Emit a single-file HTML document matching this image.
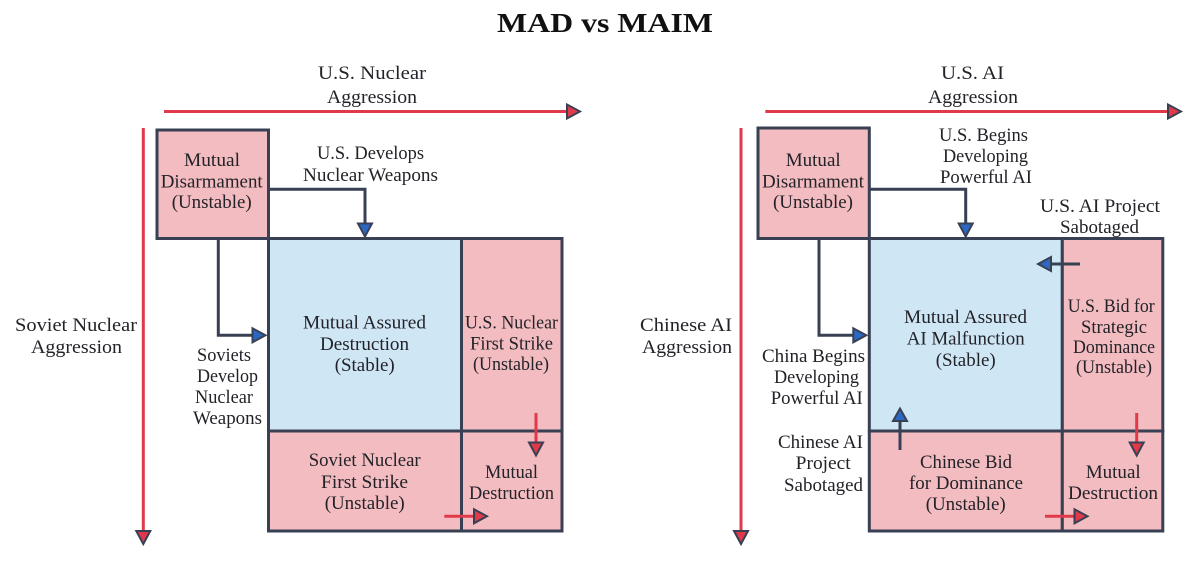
<!DOCTYPE html>
<html lang="en">
<head>
<meta charset="utf-8">
<title>MAD vs MAIM</title>
<style>
html,body{margin:0;padding:0;background:#fff;width:1200px;height:568px;overflow:hidden}
svg{display:block}
text{font-family:"Liberation Serif",serif;font-size:19px;fill:#222228}
.box{stroke:#3a4054;stroke-width:3}
.pink{fill:#f2bcc0}
.blue{fill:#cfe6f5}
.dk{stroke:#3a4054;stroke-width:3;fill:none}
.rd{stroke:#e0394a;stroke-width:3;fill:none}
.hr{fill:#e0394a;stroke:#3a4054;stroke-width:2;stroke-linejoin:miter}
.hb{fill:#2b68c4;stroke:#3a4054;stroke-width:2;stroke-linejoin:miter}
</style>
</head>
<body>
<svg width="1200" height="568" viewBox="0 0 1200 568" xmlns="http://www.w3.org/2000/svg">
<rect width="1200" height="568" fill="#fff"/>
<text x="497" y="32" textLength="216" lengthAdjust="spacingAndGlyphs" style="font-size:27px;font-weight:bold;fill:#111">MAD vs MAIM</text>

<!-- LEFT -->
<line class="rd" x1="164" y1="111.5" x2="568" y2="111.5"/>
<polygon class="hr" points="567,104.5 567,118.5 580,111.5"/>
<line class="rd" x1="143.3" y1="128" x2="143.3" y2="532"/>
<polygon class="hr" points="136.3,531 150.3,531 143.3,544"/>

<rect class="box pink" x="157" y="130" width="111.500" height="108.500"/>
<rect class="box blue" x="268.500" y="238.500" width="193" height="192.500"/>
<rect class="box pink" x="461.500" y="238.500" width="100.500" height="192.500"/>
<rect class="box pink" x="268.500" y="431" width="193" height="100"/>
<rect class="box pink" x="461.500" y="431" width="100.500" height="100"/>

<polyline class="dk" points="268.500,189.300 365,189.300 365,224"/>
<polygon class="hb" points="358,223.500 372,223.500 365,236.500"/>
<polyline class="dk" points="218.300,238.500 218.300,335.300 253,335.300"/>
<polygon class="hb" points="252.500,328.300 252.500,342.300 265.500,335.300"/>

<line class="rd" x1="536" y1="413" x2="536" y2="443"/>
<polygon class="hr" points="529,442.500 543,442.500 536,455.500"/>
<line class="rd" x1="444.300" y1="516.300" x2="474" y2="516.300"/>
<polygon class="hr" points="474,509.300 474,523.300 487,516.300"/>

<text x="318" y="79" textLength="108" lengthAdjust="spacingAndGlyphs">U.S. Nuclear</text>
<text x="327" y="103" textLength="90" lengthAdjust="spacingAndGlyphs">Aggression</text>
<text x="15" y="331" textLength="122" lengthAdjust="spacingAndGlyphs">Soviet Nuclear</text>
<text x="31" y="353" textLength="91" lengthAdjust="spacingAndGlyphs">Aggression</text>
<text x="184" y="166" textLength="56" lengthAdjust="spacingAndGlyphs">Mutual</text>
<text x="160.700" y="187.600" textLength="102" lengthAdjust="spacingAndGlyphs">Disarmament</text>
<text x="171.700" y="208" textLength="80" lengthAdjust="spacingAndGlyphs">(Unstable)</text>
<text x="317" y="159" textLength="107" lengthAdjust="spacingAndGlyphs">U.S. Develops</text>
<text x="303" y="181" textLength="135" lengthAdjust="spacingAndGlyphs">Nuclear Weapons</text>
<text x="303" y="328.700" textLength="123" lengthAdjust="spacingAndGlyphs">Mutual Assured</text>
<text x="320" y="350" textLength="89" lengthAdjust="spacingAndGlyphs">Destruction</text>
<text x="334.700" y="371" textLength="60" lengthAdjust="spacingAndGlyphs">(Stable)</text>
<text x="465" y="328.700" textLength="93" lengthAdjust="spacingAndGlyphs">U.S. Nuclear</text>
<text x="470" y="349.500" textLength="83" lengthAdjust="spacingAndGlyphs">First Strike</text>
<text x="473" y="370" textLength="76" lengthAdjust="spacingAndGlyphs">(Unstable)</text>
<text x="197" y="361" textLength="54" lengthAdjust="spacingAndGlyphs">Soviets</text>
<text x="197" y="382" textLength="61" lengthAdjust="spacingAndGlyphs">Develop</text>
<text x="195" y="403" textLength="58" lengthAdjust="spacingAndGlyphs">Nuclear</text>
<text x="193" y="424" textLength="69" lengthAdjust="spacingAndGlyphs">Weapons</text>
<text x="308.700" y="466" textLength="112" lengthAdjust="spacingAndGlyphs">Soviet Nuclear</text>
<text x="321" y="488" textLength="87" lengthAdjust="spacingAndGlyphs">First Strike</text>
<text x="324.700" y="509" textLength="80" lengthAdjust="spacingAndGlyphs">(Unstable)</text>
<text x="485" y="478" textLength="53" lengthAdjust="spacingAndGlyphs">Mutual</text>
<text x="469" y="499" textLength="85" lengthAdjust="spacingAndGlyphs">Destruction</text>

<!-- RIGHT -->
<line class="rd" x1="765.300" y1="111.500" x2="1169" y2="111.500"/>
<polygon class="hr" points="1168,104.500 1168,118.500 1181,111.500"/>
<line class="rd" x1="741" y1="128" x2="741" y2="532"/>
<polygon class="hr" points="734,531 748,531 741,544"/>

<rect class="box pink" x="758" y="128" width="111.300" height="110.500"/>
<rect class="box blue" x="869.300" y="238.500" width="193" height="192.500"/>
<rect class="box pink" x="1062.300" y="238.500" width="100.500" height="192.500"/>
<rect class="box pink" x="869.300" y="431" width="193" height="100"/>
<rect class="box pink" x="1062.300" y="431" width="100.500" height="100"/>

<polyline class="dk" points="869.300,189.300 965.700,189.300 965.700,224"/>
<polygon class="hb" points="958.700,223.500 972.700,223.500 965.700,236.500"/>
<polyline class="dk" points="819,238.500 819,335.300 854,335.300"/>
<polygon class="hb" points="853.300,328.300 853.300,342.300 866.300,335.300"/>

<line class="dk" x1="1080" y1="264" x2="1051" y2="264"/>
<polygon class="hb" points="1051,257 1051,271 1038,264"/>
<line class="dk" x1="900" y1="450" x2="900" y2="421"/>
<polygon class="hb" points="893,421 907,421 900,408.500"/>

<line class="rd" x1="1136.700" y1="413" x2="1136.700" y2="443"/>
<polygon class="hr" points="1129.700,442.500 1143.700,442.500 1136.700,455.500"/>
<line class="rd" x1="1045" y1="516.300" x2="1075" y2="516.300"/>
<polygon class="hr" points="1074.500,509.300 1074.500,523.300 1087.500,516.300"/>

<text x="941" y="79" textLength="63" lengthAdjust="spacingAndGlyphs">U.S. AI</text>
<text x="928" y="103" textLength="90" lengthAdjust="spacingAndGlyphs">Aggression</text>
<text x="640" y="331" textLength="92" lengthAdjust="spacingAndGlyphs">Chinese AI</text>
<text x="642" y="353" textLength="90" lengthAdjust="spacingAndGlyphs">Aggression</text>
<text x="785.700" y="166" textLength="55" lengthAdjust="spacingAndGlyphs">Mutual</text>
<text x="762" y="187.600" textLength="102" lengthAdjust="spacingAndGlyphs">Disarmament</text>
<text x="773" y="208" textLength="80" lengthAdjust="spacingAndGlyphs">(Unstable)</text>
<text x="939" y="141" textLength="89" lengthAdjust="spacingAndGlyphs">U.S. Begins</text>
<text x="943" y="162" textLength="85" lengthAdjust="spacingAndGlyphs">Developing</text>
<text x="940" y="183" textLength="92" lengthAdjust="spacingAndGlyphs">Powerful AI</text>
<text x="1040" y="212" textLength="120" lengthAdjust="spacingAndGlyphs">U.S. AI Project</text>
<text x="1060" y="233" textLength="79" lengthAdjust="spacingAndGlyphs">Sabotaged</text>
<text x="904" y="323" textLength="123" lengthAdjust="spacingAndGlyphs">Mutual Assured</text>
<text x="906.700" y="344.500" textLength="118" lengthAdjust="spacingAndGlyphs">AI Malfunction</text>
<text x="935.700" y="366" textLength="60" lengthAdjust="spacingAndGlyphs">(Stable)</text>
<text x="1067.700" y="312" textLength="87" lengthAdjust="spacingAndGlyphs">U.S. Bid for</text>
<text x="1081" y="333" textLength="66" lengthAdjust="spacingAndGlyphs">Strategic</text>
<text x="1073" y="353" textLength="82" lengthAdjust="spacingAndGlyphs">Dominance</text>
<text x="1076" y="373" textLength="76" lengthAdjust="spacingAndGlyphs">(Unstable)</text>
<text x="762" y="362" textLength="103" lengthAdjust="spacingAndGlyphs">China Begins</text>
<text x="774" y="383" textLength="85" lengthAdjust="spacingAndGlyphs">Developing</text>
<text x="770.700" y="404" textLength="92" lengthAdjust="spacingAndGlyphs">Powerful AI</text>
<text x="778" y="448" textLength="85" lengthAdjust="spacingAndGlyphs">Chinese AI</text>
<text x="795.700" y="469" textLength="55" lengthAdjust="spacingAndGlyphs">Project</text>
<text x="784" y="491" textLength="79" lengthAdjust="spacingAndGlyphs">Sabotaged</text>
<text x="920" y="468" textLength="92" lengthAdjust="spacingAndGlyphs">Chinese Bid</text>
<text x="909" y="489" textLength="114" lengthAdjust="spacingAndGlyphs">for Dominance</text>
<text x="925.700" y="510" textLength="80" lengthAdjust="spacingAndGlyphs">(Unstable)</text>
<text x="1085.700" y="478" textLength="55" lengthAdjust="spacingAndGlyphs">Mutual</text>
<text x="1068" y="499" textLength="90" lengthAdjust="spacingAndGlyphs">Destruction</text>
</svg>
</body>
</html>
